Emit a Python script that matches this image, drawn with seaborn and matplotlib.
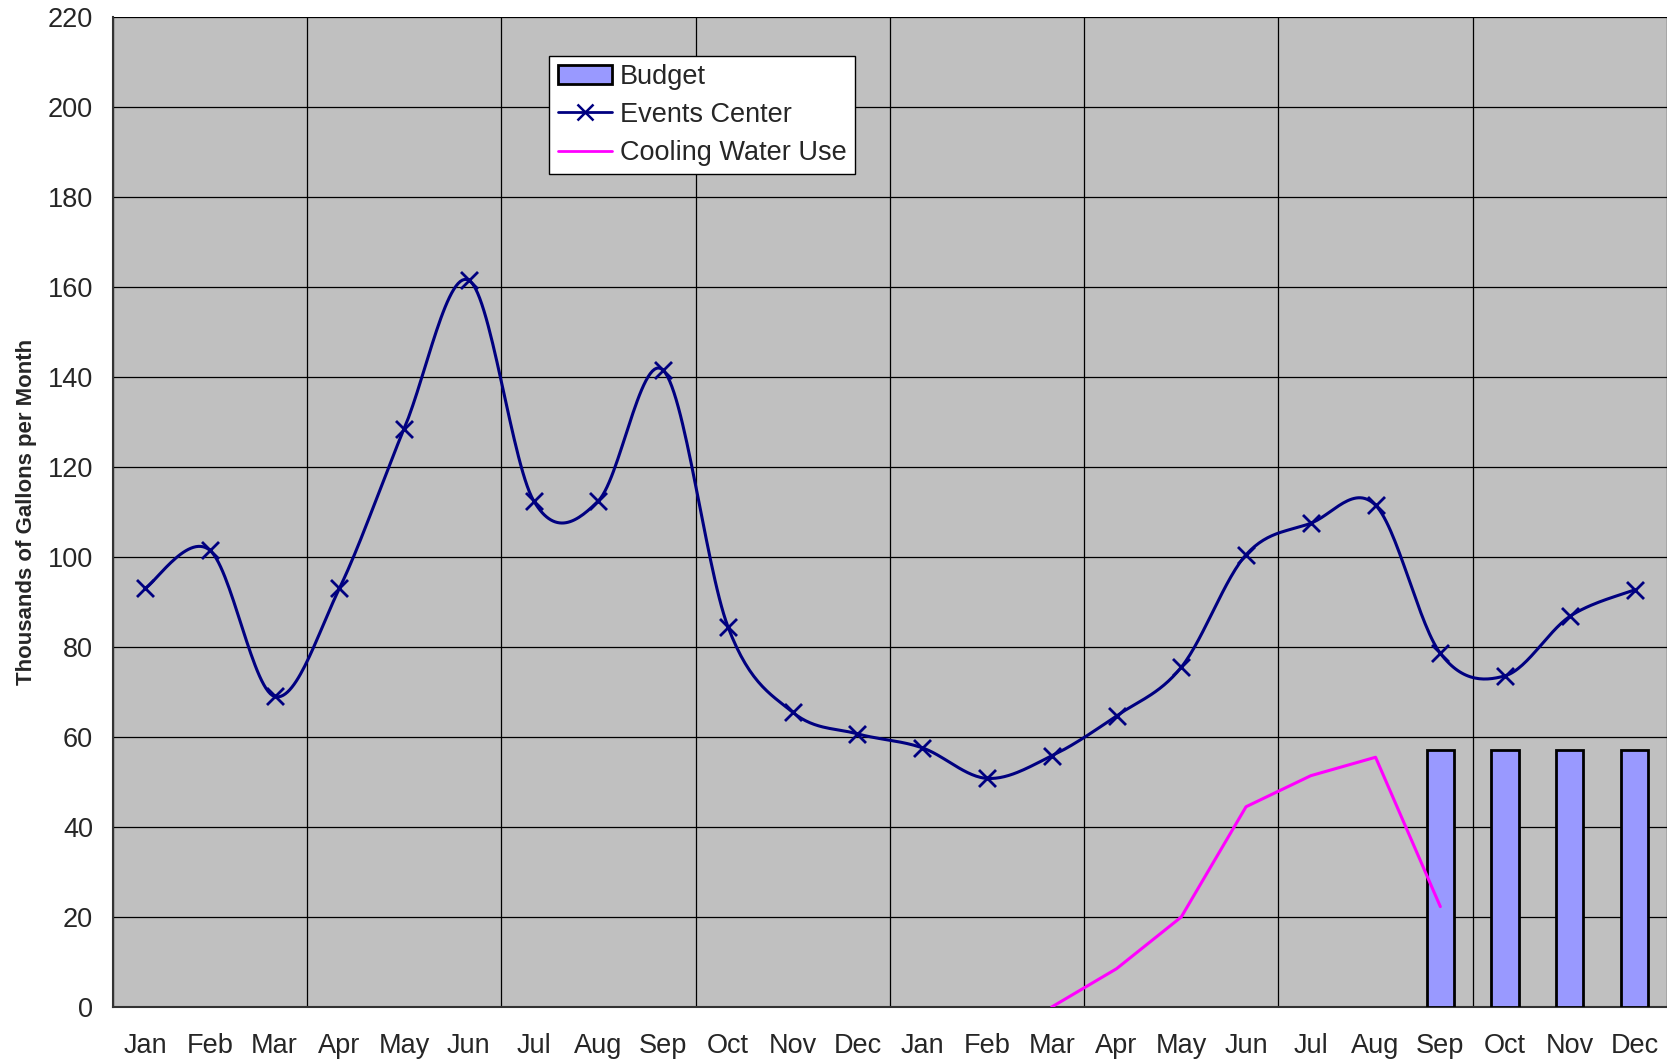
import numpy as np
import pandas as pd
import matplotlib
matplotlib.use("Agg")
import matplotlib.pyplot as plt
from matplotlib.patches import Patch
from matplotlib.lines import Line2D
import seaborn as sns

month_labels = ["Jan", "Feb", "Mar", "Apr", "May", "Jun",
                "Jul", "Aug", "Sep", "Oct", "Nov", "Dec"] * 2
events_center = [93, 101.5, 69, 93, 128.5, 161.5, 112.5, 112.5, 141.5, 84.5, 65.5, 60.7,
                 57.6, 50.8, 55.8, 64.7, 75.5, 100.5, 107.5, 111.5, 78.6, 73.6, 86.8, 92.7]
cooling_months = [14, 15, 16, 17, 18, 19, 20]
cooling_water = [0, 8.5, 20, 44.5, 51.4, 55.5, 22.3]
budget_months = [20, 21, 22, 23]
budget = [57, 57, 57, 57]


def smooth_curve(x, y, steps=30):
    """Catmull-Rom style smoothing, like Excel's smoothed line."""
    x = np.asarray(x, float)
    y = np.asarray(y, float)
    px = np.concatenate([[x[0]], x, [x[-1]]])
    py = np.concatenate([[y[0]], y, [y[-1]]])
    out_x, out_y = [], []
    t = np.linspace(0, 1, steps, endpoint=False)
    for i in range(1, len(px) - 2):
        p0, p1, p2, p3 = (np.array([px[j], py[j]]) for j in range(i - 1, i + 3))
        c1 = p1 + (p2 - p0) / 6
        c2 = p2 - (p3 - p1) / 6
        pts = ((1 - t)[:, None] ** 3 * p1 + 3 * ((1 - t) ** 2 * t)[:, None] * c1
               + 3 * ((1 - t) * t ** 2)[:, None] * c2 + (t ** 3)[:, None] * p2)
        out_x.extend(pts[:, 0])
        out_y.extend(pts[:, 1])
    out_x.append(x[-1])
    out_y.append(y[-1])
    return np.array(out_x), np.array(out_y)


sns.set_style("white")
plt.rcParams["font.family"] = ["Liberation Sans", "DejaVu Sans"]

x_all = np.arange(len(month_labels))
fig = plt.figure(figsize=(16.67, 10.63), dpi=100)
ax = fig.add_axes([0.0676, 0.0527, 0.9324, 0.9313])
ax.set_facecolor("#C0C0C0")

budget_df = pd.DataFrame({"x": budget_months, "y": budget})
sns.barplot(data=budget_df, x="x", y="y", native_scale=True, width=0.42,
            color="#9999FF", saturation=1, edgecolor="black", linewidth=2,
            ax=ax, zorder=3)

sx, sy = smooth_curve(x_all, events_center)
sns.lineplot(x=sx, y=sy, sort=False, color="#000080", linewidth=2.2, ax=ax, zorder=4)
sns.scatterplot(x=x_all, y=events_center, marker="x", s=150, color="#000080",
                linewidth=2, ax=ax, zorder=5)

sns.lineplot(x=cooling_months, y=cooling_water, color="#FF00FF", linewidth=2.2,
             ax=ax, zorder=4)

ax.set_xlim(-0.5, len(month_labels) - 0.5)
ax.set_ylim(0, 220)
ax.set_yticks(np.arange(0, 221, 20))
ax.set_xticks(np.arange(-0.5, len(month_labels), 3))
ax.set_xticklabels([])
ax.set_xticks(x_all, minor=True)
ax.set_xticklabels(month_labels, minor=True)
ax.tick_params(axis="x", which="major", direction="out", length=12, width=1, color="black")
ax.tick_params(axis="x", which="minor", length=0, pad=19, labelsize=19.5)
ax.tick_params(axis="y", direction="out", length=8, width=1, color="black",
               labelsize=19.5, pad=6)
ax.grid(True, which="major", color="black", linewidth=0.9)
ax.set_axisbelow(True)
ax.set_xlabel("")
ax.set_ylabel("Thousands of Gallons per Month", fontsize=16, fontweight="bold", labelpad=8)

for side in ["top", "right"]:
    ax.spines[side].set_visible(False)
for side in ["left", "bottom"]:
    ax.spines[side].set_color("#333333")
    ax.spines[side].set_linewidth(1.5)

handles = [
    Patch(facecolor="#9999FF", edgecolor="black", linewidth=2),
    Line2D([0], [0], color="#000080", linewidth=2, marker="x", markersize=12, markeredgewidth=1.8),
    Line2D([0], [0], color="#FF00FF", linewidth=2),
]
leg = ax.legend(handles, ["Budget", "Events Center", "Cooling Water Use"],
                loc="upper left", bbox_to_anchor=(0.281, 0.961), fontsize=19.5,
                frameon=True, fancybox=False, framealpha=1, edgecolor="black",
                borderpad=0.3, labelspacing=0.45, handlelength=2.0, handletextpad=0.3,
                borderaxespad=0)
leg.get_frame().set_linewidth(1)
leg.set_zorder(10)

fig.savefig("out.png", dpi=100)
plt.close(fig)
